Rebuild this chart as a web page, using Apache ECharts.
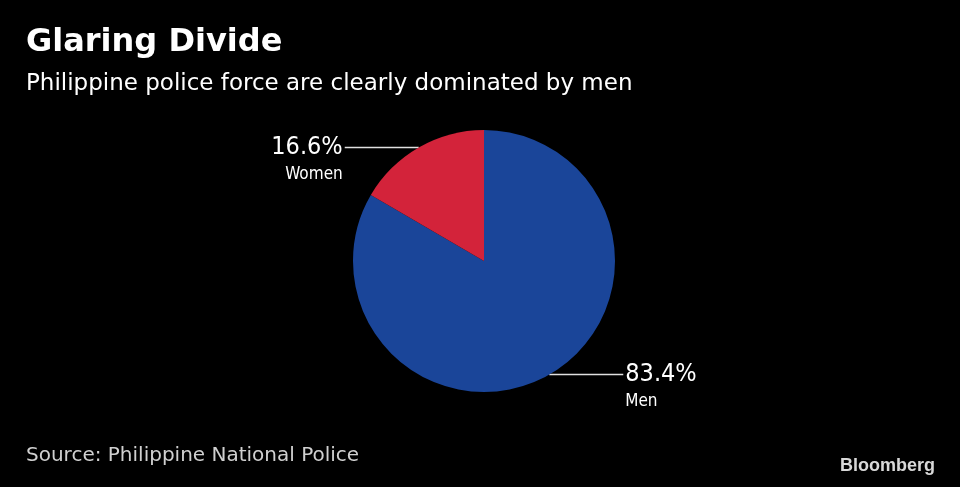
<!DOCTYPE html>
<html><head><meta charset="utf-8">
<script src="https://cdn.jsdelivr.net/npm/echarts@6/dist/echarts.min.js"></script>
<style>html,body{margin:0;padding:0;background:#000}#c{width:960px;height:487px}</style>
</head><body><div id="c"></div>
<script>
const categories = ['Men', 'Women'];
const values = [83.4, 16.6];
const colors = ['#1a4599', '#d3233a'];
const FONT = '"DejaVu Sans", sans-serif';
const LFONT = '"DejaVu Sans Condensed", sans-serif';

const chart = echarts.init(document.getElementById('c'));
chart.setOption({
  backgroundColor: '#000',
  animation: false,
  title: [
    { text: 'Glaring Divide', left: 26, top: 27, padding: 0,
      textStyle: { color: '#fff', fontFamily: FONT, fontWeight: 'bold', fontSize: 32 } },
    { text: 'Philippine police force are clearly dominated by men', left: 26, top: 73, padding: 0,
      textStyle: { color: '#fff', fontFamily: FONT, fontWeight: 'normal', fontSize: 23 } },
    { text: 'Source: Philippine National Police', left: 26, top: 446, padding: 0,
      textStyle: { color: '#d0d0d0', fontFamily: FONT, fontWeight: 'normal', fontSize: 20 } },
    { text: 'Bloomberg', right: 25, top: 457, padding: 0,
      textStyle: { color: '#d8d8d8', fontFamily: '"Liberation Sans", Arial, sans-serif', fontWeight: 'bold', fontSize: 18 } }
  ],
  series: [{
    type: 'pie',
    center: [484, 261],
    radius: 131,
    startAngle: 90,
    clockwise: true,
    silent: true,
    data: categories.map((c, i) => ({ name: c, value: values[i], itemStyle: { color: colors[i] } })),
    label: {
      show: true,
      position: 'outside',
      color: '#fff',
      fontFamily: LFONT,
      distanceToLabelLine: 2,
      formatter: p => '{b|}\n{p|' + p.value.toFixed(1) + '%}\n{n|' + p.name + '}',
      rich: {
        b: { height: 24, fontSize: 17 },
        p: { fontSize: 25, color: '#fff', fontFamily: LFONT, lineHeight: 30 },
        n: { fontSize: 17, color: '#fff', fontFamily: LFONT, lineHeight: 24 }
      }
    },
    labelLine: {
      show: true,
      length: 0,
      length2: 74,
      lineStyle: { color: '#e0e0e0', width: 1.5 }
    }
  }]
});
</script></body></html>
